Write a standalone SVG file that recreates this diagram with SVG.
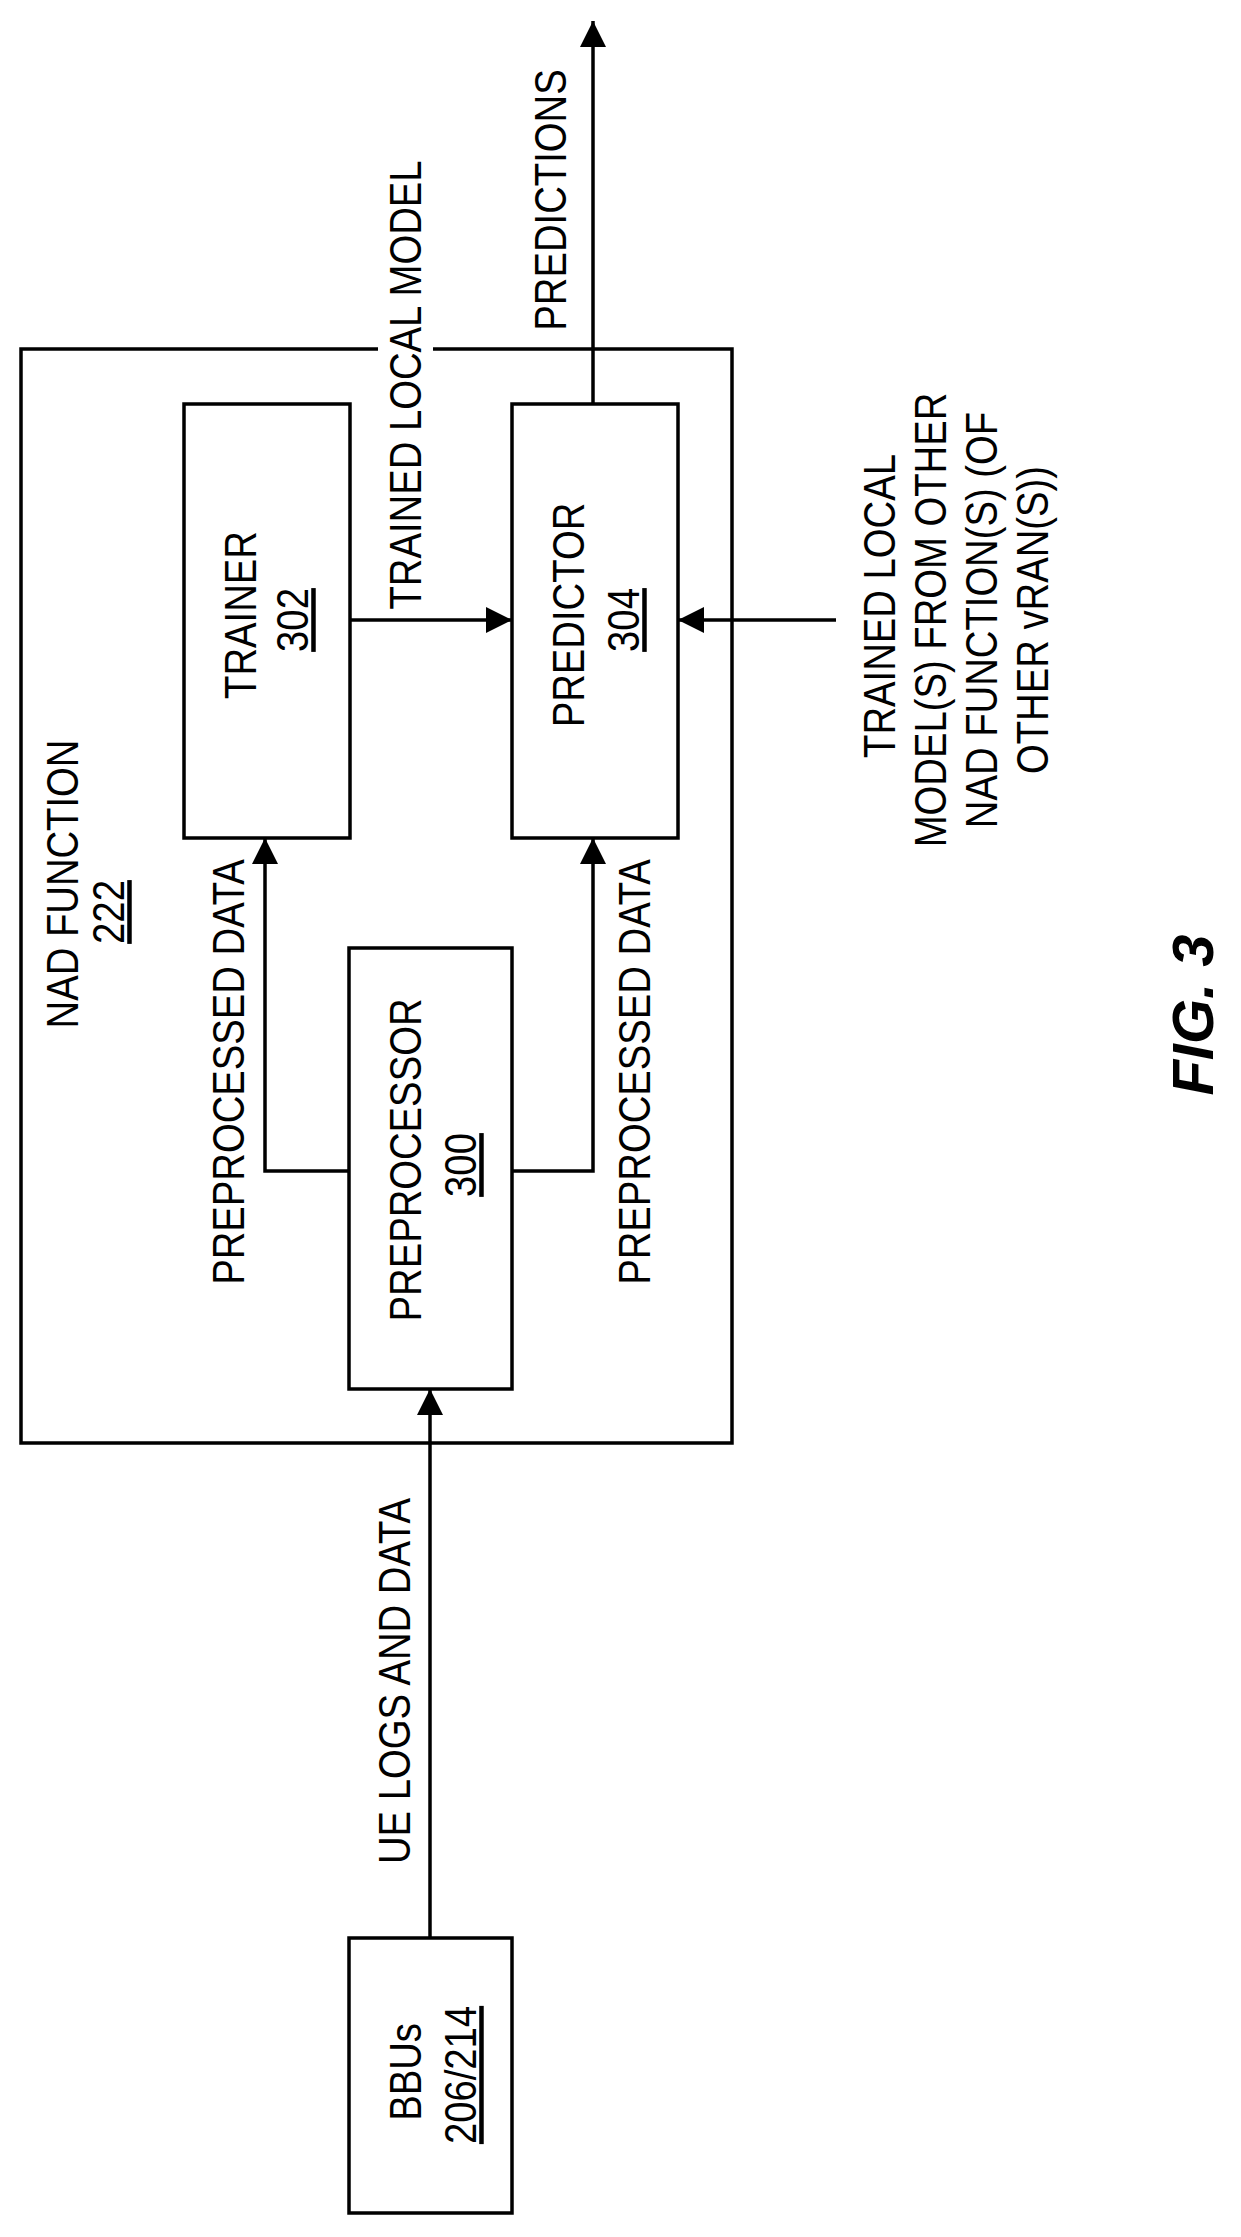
<svg xmlns="http://www.w3.org/2000/svg" width="1241" height="2237" viewBox="0 0 1241 2237">
<style>
rect.b{fill:none;stroke:#000;stroke-width:3.5}
.c line,.c polyline{fill:none;stroke:#000;stroke-width:3.5}
text{font-family:"Liberation Sans",Arial,sans-serif;font-size:45px;fill:#000}
.m{text-anchor:middle}
.u{text-decoration:underline}
.fig{font-size:58px;font-weight:bold;font-style:italic}
</style>
<defs>
<marker id="a" viewBox="0 0 26 26" refX="26" refY="13" markerWidth="26" markerHeight="26" markerUnits="userSpaceOnUse" orient="auto"><path d="M0,0 L26,13 L0,26 z" fill="#000"/></marker>
</defs>
<rect width="1241" height="2237" fill="#fff"/>
<g id="nad">
<polyline points="378,349 21,349 21,1443 732,1443 732,349 433,349" fill="none" stroke="#000" stroke-width="3.5"/>
<text class="m" transform="translate(78,884) rotate(-90) scale(0.85,1)">NAD FUNCTION</text>
<text class="m u" transform="translate(124,912) rotate(-90) scale(0.85,1)">222</text>
</g>
<g id="trainer">
<rect class="b" x="184" y="404" width="166" height="434"/>
<text class="m" transform="translate(256,615) rotate(-90) scale(0.85,1)">TRAINER</text>
<text class="m u" transform="translate(308,620) rotate(-90) scale(0.85,1)">302</text>
</g>
<g id="predictor">
<rect class="b" x="512" y="404" width="166" height="434"/>
<text class="m" transform="translate(584,615) rotate(-90) scale(0.85,1)">PREDICTOR</text>
<text class="m u" transform="translate(639,620) rotate(-90) scale(0.85,1)">304</text>
</g>
<g id="preprocessor">
<rect class="b" x="349" y="948" width="163" height="441"/>
<text class="m" transform="translate(421,1160) rotate(-90) scale(0.85,1)">PREPROCESSOR</text>
<text class="m u" transform="translate(476,1165) rotate(-90) scale(0.85,1)">300</text>
</g>
<g id="bbus">
<rect class="b" x="349" y="1938" width="163" height="275"/>
<text class="m" transform="translate(421,2072) rotate(-90) scale(0.85,1)">BBUs</text>
<text class="m u" transform="translate(476,2075) rotate(-90) scale(0.85,1)">206/214</text>
</g>
<g class="c" id="connectors">
<line x1="593" y1="404" x2="593" y2="21" marker-end="url(#a)"/>
<line x1="350" y1="620" x2="512" y2="620" marker-end="url(#a)"/>
<line x1="836" y1="620" x2="678" y2="620" marker-end="url(#a)"/>
<polyline points="349,1171 265,1171 265,838" marker-end="url(#a)"/>
<polyline points="512,1171 593,1171 593,838" marker-end="url(#a)"/>
<line x1="430" y1="1938" x2="430" y2="1389" marker-end="url(#a)"/>
</g>
<g id="labels">
<text class="m" transform="translate(421,385) rotate(-90) scale(0.85,1)">TRAINED LOCAL MODEL</text>
<text class="m" transform="translate(566,200) rotate(-90) scale(0.85,1)">PREDICTIONS</text>
<text class="m" transform="translate(244,1072) rotate(-90) scale(0.85,1)">PREPROCESSED DATA</text>
<text class="m" transform="translate(650,1072) rotate(-90) scale(0.85,1)">PREPROCESSED DATA</text>
<text class="m" transform="translate(410,1681) rotate(-90) scale(0.85,1)">UE LOGS AND DATA</text>
<text class="m" transform="translate(895,606) rotate(-90) scale(0.85,1)">TRAINED LOCAL</text>
<text class="m" transform="translate(946,620) rotate(-90) scale(0.85,1)">MODEL(S) FROM OTHER</text>
<text class="m" transform="translate(997,620) rotate(-90) scale(0.85,1)">NAD FUNCTION(S) (OF</text>
<text class="m" transform="translate(1048,620) rotate(-90) scale(0.85,1)">OTHER vRAN(S))</text>
<text class="m fig" transform="translate(1213,1015) rotate(-90)">FIG. 3</text>
</g>
</svg>
